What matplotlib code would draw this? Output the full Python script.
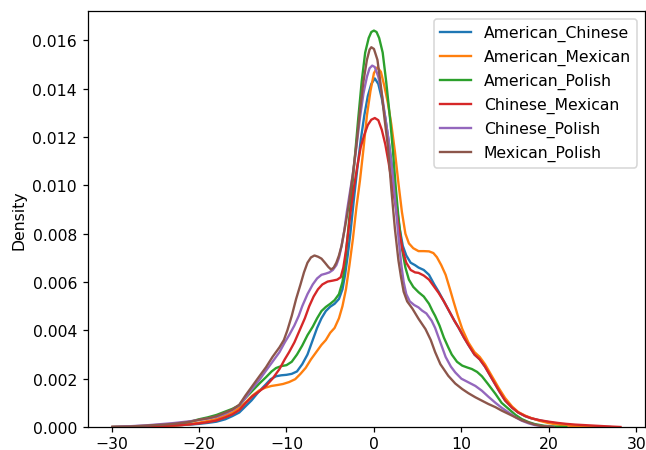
import matplotlib
matplotlib.use("Agg")
import matplotlib.pyplot as plt

# ---- data (x, density) ----
ac_x = [-29.9, -27, -25, -23, -22, -21, -20, -19, -18, -17, -16.2, -15.4, -14.7, -14, -13.2, -12.4, -11.8,
        -11.2, -10.6, -10.0, -9.4, -8.8, -8.2, -7.6, -7.0, -6.5, -6.0, -5.5, -5.0, -4.5, -4.0, -3.6, -3.3,
        -3.0, -2.7, -2.3, -1.9, -1.5, -1.1, -0.7, -0.3, 0.1, 0.5, 0.9, 1.3, 1.7, 2.1, 2.5, 2.9, 3.3, 3.7,
        4.2, 4.7, 5.1, 5.7, 6.3, 6.9, 7.4, 8.0, 8.6, 9.2, 9.7, 10.3, 10.8, 11.5, 12.1, 12.7, 13.5, 14.3,
        15.0, 15.8, 16.5, 17.3, 18.0, 19.0, 20.0, 21.0, 21.9, 23.0, 24.9, 27.0]
ac_y = [0, 0.00001, 0.00003, 0.00005, 0.00008, 0.0001, 0.00013, 0.00017, 0.00022, 0.00032, 0.00045,
        0.0006, 0.00085, 0.0011, 0.00145, 0.00175, 0.00198, 0.0021, 0.00214, 0.00216, 0.0022, 0.0023,
        0.0026, 0.003, 0.0036, 0.0041, 0.0045, 0.0048, 0.00498, 0.0051, 0.0053, 0.0057, 0.0063, 0.0071,
        0.008, 0.0094, 0.0107, 0.0119, 0.0129, 0.0137, 0.0142, 0.01443, 0.0142, 0.0136, 0.0128, 0.0118,
        0.0107, 0.0095, 0.0083, 0.0075, 0.0071, 0.0068, 0.0067, 0.0066, 0.0065, 0.0063, 0.0059, 0.0056,
        0.0052, 0.0048, 0.0044, 0.0041, 0.0037, 0.0034, 0.003, 0.0028, 0.0025, 0.002, 0.0015, 0.0011,
        0.0008, 0.0006, 0.00045, 0.00036, 0.00027, 0.0002, 0.00014, 0.0001, 0.00005, 0.00002, 0]

am_x = [-29.9, -26, -24, -22, -21, -20, -19, -18, -17, -16.2, -15.4, -14.6, -13.9, -13.1, -12.4, -11.7,
        -11.0, -10.4, -9.7, -9.0, -8.4, -7.8, -7.2, -6.6, -6.0, -5.5, -5.0, -4.5, -4.0, -3.6, -3.2, -2.8,
        -2.4, -2.0, -1.6, -1.2, -0.8, -0.4, 0.0, 0.4, 0.8, 1.2, 1.6, 2.0, 2.4, 2.8, 3.2, 3.6, 4.0, 4.5,
        5.1, 5.7, 6.3, 6.8, 7.2, 7.7, 8.2, 8.7, 9.1, 9.6, 10.1, 10.8, 11.5, 12.1, 12.7, 13.5, 14.3, 15.0,
        15.8, 16.5, 17.3, 18.0, 19.0, 20.0, 21.0, 22.0, 24.0, 26.0]
am_y = [0, 0.00001, 0.00003, 0.00008, 0.00012, 0.00018, 0.00025, 0.00033, 0.00048, 0.0006, 0.0008,
        0.00105, 0.0013, 0.00152, 0.00163, 0.0017, 0.00174, 0.00178, 0.00186, 0.00198, 0.0022, 0.00245,
        0.0028, 0.0031, 0.0034, 0.0036, 0.0039, 0.0041, 0.0045, 0.005, 0.0057, 0.0067, 0.0078, 0.0091,
        0.0102, 0.0115, 0.0129, 0.0139, 0.01465, 0.01489, 0.0147, 0.0141, 0.0134, 0.0125, 0.0114, 0.0101,
        0.0089, 0.008, 0.0076, 0.0074, 0.00728, 0.00728, 0.00727, 0.0072, 0.00703, 0.0067, 0.0063,
        0.0057, 0.0052, 0.0046, 0.00406, 0.0035, 0.0031, 0.0029, 0.0026, 0.0021, 0.0016, 0.0012, 0.00085,
        0.00062, 0.00047, 0.00037, 0.00025, 0.00016, 0.0001, 0.00006, 0.00002, 0]

ap_x = [-29.9, -27, -25, -23, -22, -21, -20, -19, -18, -17, -16.2, -15.4, -14.7, -13.9, -13.1, -12.35,
        -11.7, -11.2, -10.6, -10.0, -9.4, -8.8, -8.2, -7.6, -7.0, -6.5, -6.0, -5.5, -5.0, -4.5, -4.0, -3.6,
        -3.3, -3.0, -2.7, -2.5, -2.2, -1.8, -1.4, -1.0, -0.6, -0.3, 0.0, 0.3, 0.6, 1.0, 1.4, 1.85, 2.2,
        2.5, 2.8, 3.2, 3.6, 4.0, 4.5, 5.1, 5.7, 6.3, 6.7, 7.0, 7.5, 8.0, 8.5, 8.9, 9.5, 10.1, 10.7, 11.2,
        11.8, 12.35, 13.0, 13.9, 14.6, 15.4, 16.2, 16.9, 17.7, 18.4, 19.5, 21.0, 22.0]
ap_y = [0, 0.00002, 0.00005, 0.0001, 0.00015, 0.00022, 0.00032, 0.0004, 0.0005, 0.00064, 0.00075,
        0.0009, 0.0012, 0.0015, 0.0018, 0.00206, 0.0023, 0.00244, 0.00252, 0.00256, 0.0027, 0.003,
        0.00337, 0.0038, 0.00415, 0.0045, 0.0048, 0.00497, 0.0051, 0.00525, 0.0055, 0.006, 0.0068,
        0.0079, 0.0091, 0.0099, 0.0111, 0.01275, 0.0143, 0.0155, 0.0161, 0.01635, 0.01641, 0.01635,
        0.0161, 0.0155, 0.0143, 0.01275, 0.0113, 0.0099, 0.0087, 0.0074, 0.0066, 0.0061, 0.0058, 0.00558,
        0.0054, 0.0051, 0.0048, 0.0046, 0.0042, 0.0037, 0.0033, 0.003, 0.0027, 0.00254, 0.00246, 0.0024,
        0.00228, 0.0021, 0.0018, 0.00137, 0.001, 0.00075, 0.0005, 0.00033, 0.0002, 0.00012, 0.00005,
        0.00001, 0]

cm_x = [-29.9, -27, -25, -23, -22, -21, -20, -19, -18, -17, -16.2, -15.4, -14.7, -13.9, -13.1, -12.35,
        -11.6, -10.8, -10.2, -9.7, -9.1, -8.5, -7.9, -7.4, -6.9, -6.4, -5.9, -5.3, -4.7, -4.2, -3.8, -3.5,
        -3.2, -2.9, -2.6, -2.3, -1.9, -1.5, -1.1, -0.7, -0.3, 0.1, 0.5, 0.9, 1.3, 1.7, 2.1, 2.5, 2.9, 3.3,
        3.7, 4.2, 4.7, 5.1, 5.7, 6.3, 6.9, 7.4, 8.0, 8.6, 9.2, 9.7, 10.3, 10.8, 11.5, 12.1, 12.7, 13.5,
        14.3, 15.0, 15.8, 16.5, 17.3, 18.0, 19.0, 20.0, 21.0, 22.0, 23.0, 24.0, 25.0, 26.5, 28.2]
cm_y = [0, 0.00001, 0.00003, 0.00006, 0.00008, 0.00011, 0.00015, 0.0002, 0.00027, 0.0004, 0.00052,
        0.0007, 0.00098, 0.00127, 0.00148, 0.0017, 0.002, 0.0024, 0.0028, 0.0031, 0.0035, 0.004, 0.0045,
        0.005, 0.0054, 0.0057, 0.0059, 0.00602, 0.00606, 0.0061, 0.0062, 0.0066, 0.0073, 0.0082, 0.0091,
        0.0099, 0.0108, 0.0116, 0.0121, 0.0125, 0.01272, 0.01279, 0.0127, 0.0123, 0.0117, 0.0109, 0.01,
        0.0091, 0.0081, 0.0073, 0.0068, 0.0065, 0.0064, 0.00638, 0.00627, 0.0061, 0.0058, 0.00555, 0.0052,
        0.0048, 0.0044, 0.0041, 0.0037, 0.0034, 0.003, 0.0028, 0.0025, 0.002, 0.0015, 0.0011, 0.0008,
        0.0006, 0.00045, 0.00036, 0.00028, 0.00022, 0.00017, 0.00013, 0.0001, 0.00008, 0.00006, 0.00003, 0]

cp_x = [-29.9, -28, -27, -26, -25, -24, -23, -22, -21, -20, -19, -18, -17, -16.2, -15.4, -14.7, -13.9,
        -13.1, -12.35, -11.6, -10.8, -10.2, -9.7, -9.1, -8.6, -8.2, -7.6, -7.0, -6.5, -6.0, -5.5, -5.1,
        -4.7, -4.3, -4.0, -3.7, -3.4, -3.1, -2.8, -2.4, -2.0, -1.6, -1.2, -0.8, -0.5, -0.2, 0.1, 0.5, 0.9,
        1.3, 1.7, 2.1, 2.5, 2.8, 3.1, 3.4, 3.7, 4.1, 4.6, 5.1, 5.5, 6.0, 6.6, 7.0, 7.6, 8.2, 8.8, 9.3, 10.0,
        10.8, 11.6, 12.35, 13.1, 13.9, 14.6, 15.4, 16.2, 16.9, 17.7, 18.4, 19.2, 20.5]
cp_y = [0, 0.00003, 0.00005, 0.00007, 0.0001, 0.00013, 0.00016, 0.0002, 0.00024, 0.00029, 0.00035,
        0.00042, 0.00055, 0.0007, 0.0009, 0.0012, 0.0016, 0.00195, 0.00233, 0.0027, 0.0031, 0.0035,
        0.0038, 0.0042, 0.0046, 0.005, 0.0055, 0.0059, 0.00615, 0.0063, 0.00635, 0.0064, 0.0065, 0.0067,
        0.007, 0.0075, 0.0081, 0.0089, 0.0096, 0.0105, 0.0116, 0.0128, 0.0138, 0.0145, 0.01485, 0.01496,
        0.0149, 0.0145, 0.0138, 0.0128, 0.0118, 0.0106, 0.0091, 0.0079, 0.0068, 0.006, 0.0055, 0.0052,
        0.00505, 0.00495, 0.00482, 0.0047, 0.0044, 0.0041, 0.0035, 0.0029, 0.0025, 0.00226, 0.002,
        0.00185, 0.0017, 0.0015, 0.00125, 0.001, 0.0008, 0.0006, 0.0004, 0.00026, 0.00015, 0.00008,
        0.00004, 0]

mp_x = [-29.9, -28, -27, -26, -25, -24, -23, -22, -21, -20, -19, -18, -17, -16.2, -15.4, -14.7, -13.9,
        -13.1, -12.35, -11.6, -10.8, -10.3, -9.9, -9.4, -8.9, -8.4, -8.0, -7.6, -7.2, -6.8, -6.4, -6.0,
        -5.6, -5.2, -4.9, -4.6, -4.3, -4.0, -3.7, -3.4, -3.1, -2.8, -2.4, -2.0, -1.6, -1.2, -0.8, -0.5,
        -0.3, 0.0, 0.4, 0.8, 1.2, 1.6, 2.0, 2.4, 2.8, 3.1, 3.4, 3.8, 4.4, 5.1, 5.9, 6.5, 7.0, 7.6, 8.5,
        9.3, 10.1, 10.8, 11.6, 12.4, 13.1, 13.9, 14.6, 15.4, 16.2, 16.9, 17.7, 18.4, 19.2, 20.5]
mp_y = [0, 0.00002, 0.00004, 0.00006, 0.00008, 0.0001, 0.00013, 0.00017, 0.00022, 0.0003, 0.00036,
        0.00045, 0.0006, 0.00072, 0.00092, 0.0013, 0.0017, 0.0021, 0.00247, 0.0029, 0.0033, 0.0036,
        0.004, 0.0046, 0.0053, 0.0059, 0.0064, 0.0068, 0.00702, 0.0071, 0.00705, 0.00697, 0.0068,
        0.00662, 0.00652, 0.0066, 0.0068, 0.0071, 0.0075, 0.0081, 0.0087, 0.0094, 0.0105, 0.0117, 0.0131,
        0.0143, 0.0152, 0.01562, 0.01572, 0.01565, 0.0152, 0.0141, 0.0128, 0.0116, 0.0098, 0.0082,
        0.0069, 0.0062, 0.0056, 0.0052, 0.0049, 0.00448, 0.00405, 0.0036, 0.0031, 0.0026, 0.00212,
        0.0018, 0.00157, 0.0014, 0.00123, 0.00108, 0.00095, 0.00082, 0.00068, 0.00054, 0.0004, 0.00028,
        0.00018, 0.0001, 0.00004, 0]

labels = ["American_Chinese", "American_Mexican", "American_Polish",
          "Chinese_Mexican", "Chinese_Polish", "Mexican_Polish"]
series = [(ac_x, ac_y), (am_x, am_y), (ap_x, ap_y), (cm_x, cm_y), (cp_x, cp_y), (mp_x, mp_y)]
colors = ["#1f77b4", "#ff7f0e", "#2ca02c", "#d62728", "#9467bd", "#8c564b"]

dpi = 112.5
fig = plt.figure(figsize=(646 / dpi, 451 / dpi), dpi=dpi)
ax = fig.add_axes([88 / 646, 23 / 451, 557 / 646, 416 / 451])

for (xs, ys), lab, c in zip(series, labels, colors):
    ax.plot(xs, ys, color=c, lw=1.5, label=lab)

ax.set_xlim(-32.7, 31.0)
ax.set_ylim(0, 0.01722)
ax.set_xticks([-30, -20, -10, 0, 10, 20, 30])
ax.set_yticks([0, 0.002, 0.004, 0.006, 0.008, 0.010, 0.012, 0.014, 0.016])
ax.set_yticklabels(["0.000", "0.002", "0.004", "0.006", "0.008", "0.010", "0.012", "0.014", "0.016"])
ax.tick_params(axis="x", pad=2.0)
ax.set_ylabel("Density")
ax.legend(loc="upper right")

fig.savefig("out.png", dpi=dpi)
